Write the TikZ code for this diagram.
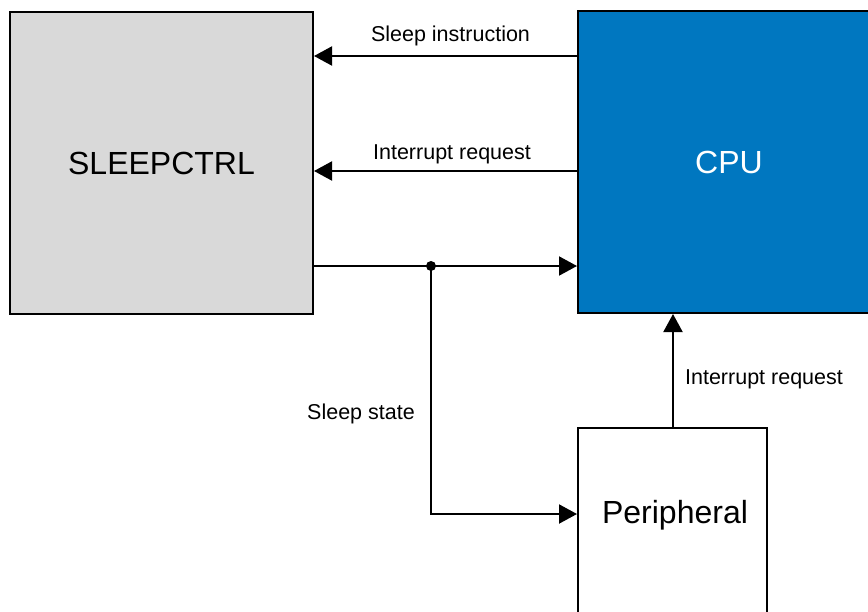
\documentclass[tikz,border=0pt]{standalone}
\usepackage{fontspec}
\setmainfont{Liberation Sans}
\usetikzlibrary{arrows.meta}
\definecolor{cpublue}{RGB}{0,119,192}
\definecolor{ctrlgray}{RGB}{217,217,217}
\begin{document}
\begin{tikzpicture}[x=1pt,y=-1pt,
  block/.style={draw=black, line width=2pt, inner sep=0pt,
    font=\fontsize{32}{38}\selectfont},
  link/.style={line width=2pt, -{Triangle[length=18pt,width=19pt]}},
  lbl/.style={font=\fontsize{21.5}{26}\selectfont, inner sep=0pt}]
\useasboundingbox (0,0) rectangle (868,611);
\clip (0,0) rectangle (868,611);

% blocks
\node[block, fill=ctrlgray, minimum width=303pt, minimum height=302pt]
  (ctrl) at (161.5,163) {SLEEPCTRL};
\node[block, fill=cpublue, text=white, minimum width=302pt, minimum height=302pt]
  (cpu) at (729,162) {CPU};
\node[block, minimum width=189pt, minimum height=212pt,
  label={[font=\fontsize{32}{38}\selectfont, xshift=2.5pt, yshift=18.5pt]center:Peripheral}]
  (per) at (672.5,534) {};

% CPU -> SLEEPCTRL
\draw[link] (cpu.west |- 0,56) -- (ctrl.east |- 0,56);
\node[lbl] (lsi) at (450.5,36) {Sleep instruction};
\draw[link] (cpu.west |- 0,171) -- (ctrl.east |- 0,171);
\node[lbl] (lir) at (452,154) {Interrupt request};

% sleep state
\coordinate (junc) at (431,266);
\coordinate (bend) at (431,514);
\draw[link] (ctrl.east |- junc) -- (cpu.west |- junc);
\fill (junc) circle (5pt);
\draw[link] (junc) -- (bend) -- (per.west |- bend);
\node[lbl] (lss) at (361,414) {Sleep state};

% peripheral interrupt
\draw[link] (per.north -| 673,0) -- (cpu.south -| 673,0);
\node[lbl] (lpi) at (764,379) {Interrupt request};
\end{tikzpicture}
\end{document}
